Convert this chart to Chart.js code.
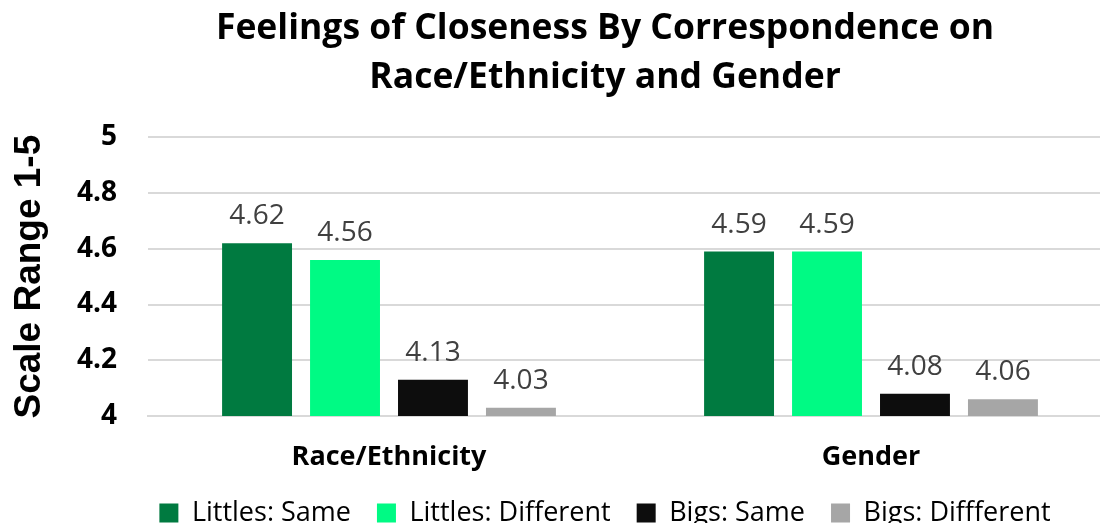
<!DOCTYPE html>
<html>
<head>
<meta charset="utf-8">
<script src="https://cdn.jsdelivr.net/npm/chart.js@4.4.1/dist/chart.umd.min.js"></script>
<style>
    html, body { margin: 0; padding: 0; background: #fff; overflow: hidden; }
    #wrap { width: 1210px; height: 523px; }
</style>
</head>
<body>
<div id="wrap"><canvas id="barChart" width="1210" height="523"></canvas></div>
<script>
const FONT = '"Open Sans", sans-serif';

const categories = ['Race/Ethnicity', 'Gender'];
const seriesNames = ['Littles: Same', 'Littles: Different', 'Bigs: Same', 'Bigs: Diffferent'];
const littlesSame = [4.62, 4.59];
const littlesDifferent = [4.56, 4.59];
const bigsSame = [4.13, 4.08];
const bigsDifferent = [4.03, 4.06];
const yTicks = [4, 4.2, 4.4, 4.6, 4.8, 5];
const seriesColors = ['#007A40', '#00FA84', '#0D0D0D', '#A6A6A6'];

// prints each bar's value just above its top
const valueLabels = {
    id: 'valueLabels',
    afterDatasetsDraw(chart) {
        const ctx = chart.ctx;
        ctx.save();
        ctx.font = '28px ' + FONT;
        ctx.fillStyle = '#404040';
        ctx.textAlign = 'center';
        ctx.textBaseline = 'alphabetic';
        chart.data.datasets.forEach((ds, i) => {
            chart.getDatasetMeta(i).data.forEach((bar, j) => {
                ctx.fillText(ds.data[j].toFixed(2), bar.x, bar.y - 19);
            });
        });
        ctx.restore();
    }
};

const allSeries = [littlesSame, littlesDifferent, bigsSame, bigsDifferent];

new Chart(document.getElementById('barChart').getContext('2d'), {
    type: 'bar',
    data: {
        labels: categories,
        datasets: allSeries.map((values, i) => ({
            label: seriesNames[i],
            data: values,
            backgroundColor: seriesColors[i],
            categoryPercentage: 0.73,
            barPercentage: 0.795
        }))
    },
    options: {
        responsive: false,
        animation: false,
        // negative bottom pulls the legend down toward the canvas edge
        layout: { padding: { left: 0, right: 0, top: 2, bottom: -13.5 } },
        plugins: {
            title: {
                display: true,
                text: ['Feelings of Closeness By Correspondence on', 'Race/Ethnicity and Gender'],
                font: { family: FONT, size: 35.5, weight: 'bold', lineHeight: 1.37 },
                color: '#000',
                padding: { top: 3, bottom: 35 }
            },
            legend: {
                position: 'bottom',
                labels: {
                    font: { family: FONT, size: 27 },
                    color: '#000',
                    boxWidth: 19,
                    boxHeight: 19,
                    padding: 26
                }
            },
            tooltip: { enabled: false }
        },
        scales: {
            x: {
                grid: { display: false, drawTicks: false },
                border: { color: '#D9D9D9', width: 2 },
                ticks: {
                    font: { family: FONT, size: 27, weight: 'bold' },
                    color: '#000',
                    padding: 25
                },
                afterFit: (scale) => { scale.height = 57.5; }
            },
            y: {
                min: yTicks[0],
                max: yTicks[yTicks.length - 1],
                afterBuildTicks: (scale) => { scale.ticks = yTicks.map(v => ({ value: v })); },
                ticks: {
                    font: { family: FONT, size: 28, weight: 'bold' },
                    color: '#000',
                    padding: 31,
                    callback: (v) => String(Number(v.toFixed(1)))
                },
                grid: { color: '#D9D9D9', lineWidth: 2, drawTicks: false },
                border: { display: false },
                title: {
                    display: true,
                    text: 'Scale Range 1-5',
                    font: { family: '"Liberation Sans", Arial, sans-serif', size: 37, weight: 'bold' },
                    color: '#000',
                    padding: { top: 8, bottom: 0 }
                },
                afterFit: (scale) => { scale.width = 148; }
            },
            // empty right-hand axis that reserves the space the plot runs past
            spacer: {
                position: 'right',
                display: true,
                grid: { display: false },
                border: { display: false },
                ticks: { display: false },
                afterFit: (scale) => { scale.width = 98; }
            }
        }
    },
    plugins: [valueLabels]
});
</script>
</body>
</html>
